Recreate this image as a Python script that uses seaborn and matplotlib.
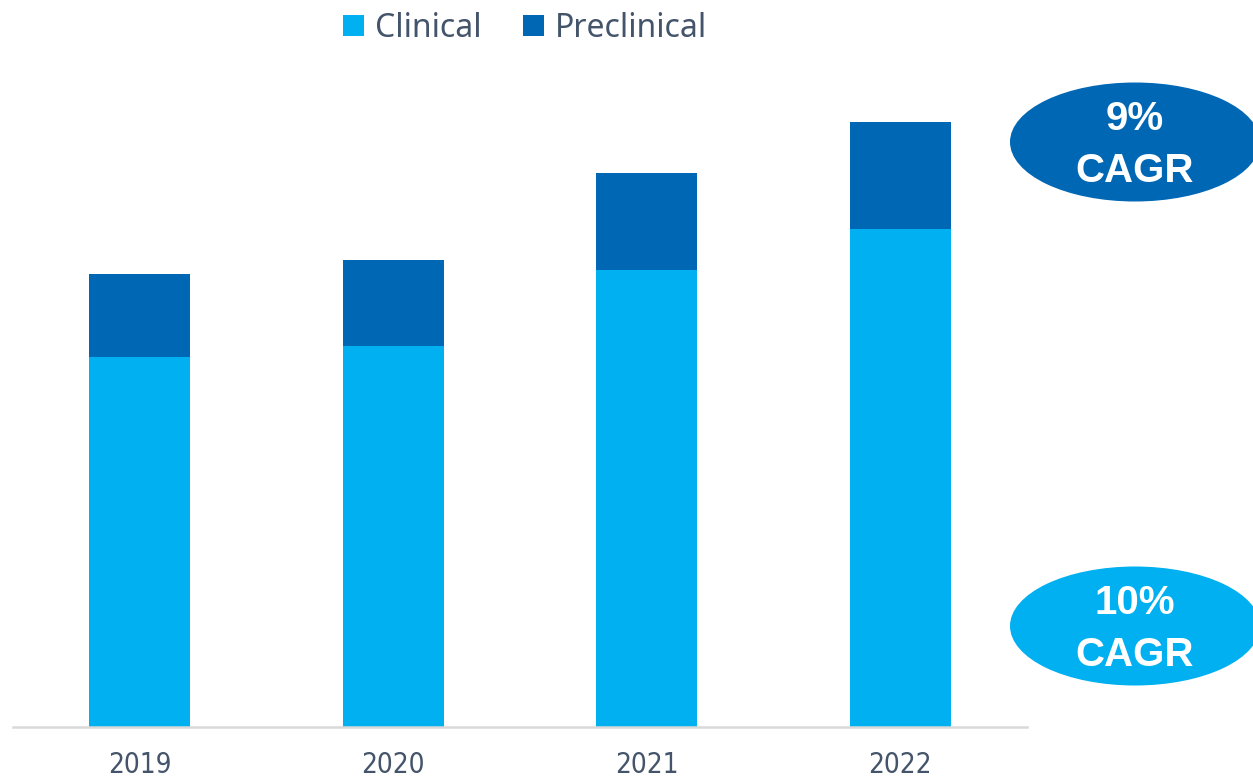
import matplotlib
matplotlib.use("Agg")
import matplotlib.pyplot as plt
from matplotlib.patches import Ellipse, Patch
from matplotlib import font_manager
import seaborn as sns
import pandas as pd

# Data
years = ["2019", "2020", "2021", "2022"]
clinical = [370, 381, 457, 498]
preclinical = [83, 86, 97, 107]
series_names = ["Clinical", "Preclinical"]
cagr_labels = ["9%\nCAGR", "10%\nCAGR"]

CLIN = "#00B0F0"
PRE = "#0067B4"
TEXT = "#44546A"

sns.set_theme(style="white")
available = {f.name for f in font_manager.fontManager.ttflist}
narrow = "Liberation Sans Narrow" if "Liberation Sans Narrow" in available else "DejaVu Sans"
plt.rcParams["font.family"] = ["Noto Sans", "DejaVu Sans"]

W, H = 1253, 782
fig = plt.figure(figsize=(W / 100, H / 100), dpi=100)
ax = fig.add_axes([13 / W, 55 / H, 1014 / W, 667 / H])

df = pd.DataFrame({"year": years, "clinical": clinical, "preclinical": preclinical})

sns.barplot(data=df, x="year", y="clinical", color=CLIN, saturation=1,
            width=0.4, ax=ax, linewidth=0)
sns.barplot(data=df, x="year", y="preclinical", color=PRE, saturation=1,
            width=0.4, ax=ax, linewidth=0, bottom=df["clinical"])

ax.set_xlim(-0.5, 3.5)
ax.set_ylim(0, 667)
ax.set_xlabel("")
ax.set_ylabel("")
ax.set_yticks([])
for s in ["top", "left", "right"]:
    ax.spines[s].set_visible(False)
ax.spines["bottom"].set_color("#D9D9D9")
ax.spines["bottom"].set_linewidth(1.8)
ax.tick_params(axis="x", length=0, pad=17)
for lbl in ax.get_xticklabels():
    lbl.set_fontfamily(narrow)
    lbl.set_fontstretch("condensed")
    lbl.set_fontsize(20)
    lbl.set_color(TEXT)

# Legend
handles = [Patch(facecolor=CLIN, edgecolor="none"), Patch(facecolor=PRE, edgecolor="none")]
fig.legend(handles, series_names, loc="upper center", bbox_to_anchor=(525 / W, 1.022),
           ncol=2, frameon=False, fontsize=23, labelcolor=TEXT,
           handlelength=0.65, handleheight=0.65, handletextpad=0.35, columnspacing=1.3)

# CAGR badges in pixel space
overlay = fig.add_axes([0, 0, 1, 1], facecolor="none")
overlay.set_xlim(0, W)
overlay.set_ylim(H, 0)
overlay.axis("off")
badges = [(1135, 142, PRE, cagr_labels[0]), (1135, 626, CLIN, cagr_labels[1])]
for cx, cy, col, txt in badges:
    overlay.add_patch(Ellipse((cx, cy), 250, 119, facecolor=col, edgecolor="none"))
    overlay.text(cx, cy + 3, txt, ha="center", va="center", color="white",
                 fontsize=29, fontweight="bold", family=["Liberation Sans", "DejaVu Sans"],
                 linespacing=1.45)

fig.savefig("out.png", dpi=100)
